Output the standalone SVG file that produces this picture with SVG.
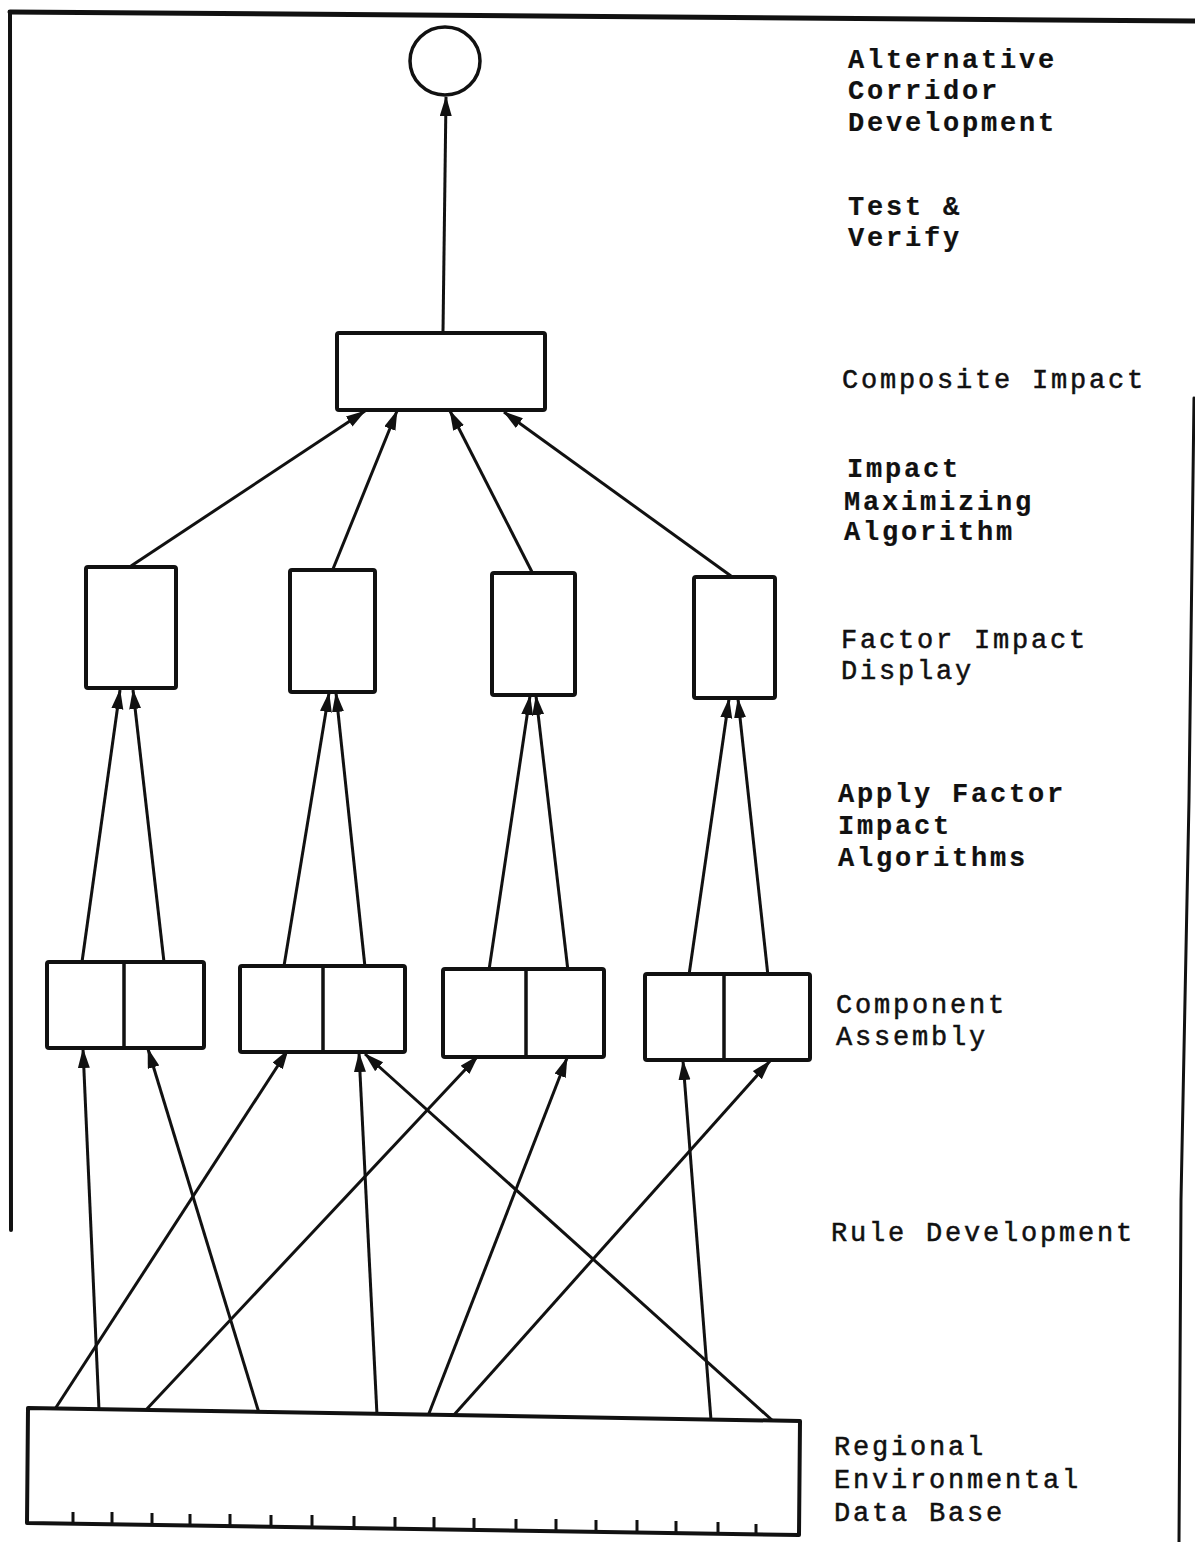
<svg xmlns="http://www.w3.org/2000/svg" width="1195" height="1542" viewBox="0 0 1195 1542">
  <defs>
    <marker id="head" markerUnits="userSpaceOnUse" markerWidth="22" markerHeight="13" refX="19" refY="6" orient="auto">
      <path d="M0,0 L20,6 L0,12 Z" fill="#111"/>
    </marker>
    <style>
      .frame { fill: none; stroke: #111; stroke-linecap: round; stroke-linejoin: round; }
      .box { fill: #fff; stroke: #111; stroke-width: 4; stroke-linejoin: round; }
      .div { stroke: #111; stroke-width: 3.5; }
      .tick { stroke: #111; stroke-width: 3; }
      .conn { stroke: #111; stroke-width: 3; fill: none; marker-end: url(#head); }
      .lbl { font-family: "Liberation Mono", "Courier New", monospace; font-size: 27px; letter-spacing: 2.8px; fill: #111; stroke: #111; stroke-width: 0.5px; }
      .b { font-weight: bold; stroke-width: 0.2px; }
    </style>
  </defs>

  <rect width="1195" height="1542" fill="#fff"/>

  <!-- page frame -->
  <g id="frame">
    <path class="frame" d="M10,12 L1195,21" stroke-width="5"/>
    <path class="frame" d="M10,12 L11,1230" stroke-width="4"/>
    <path class="frame" d="M1194,398 L1189,800 L1181,1200 L1179,1542" stroke-width="3"/>
  </g>

  <!-- connectors -->
  <g id="connectors">
    <!-- composite to goal -->
    <line class="conn" x1="443" y1="332" x2="446" y2="97"/>
    <!-- factor displays to composite -->
    <line class="conn" x1="131" y1="566" x2="365" y2="411"/>
    <line class="conn" x1="333" y1="569" x2="397" y2="411"/>
    <line class="conn" x1="532" y1="572" x2="450" y2="411"/>
    <line class="conn" x1="731" y1="576" x2="504" y2="412"/>
    <!-- component assemblies to factor displays -->
    <line class="conn" x1="82" y1="962" x2="120" y2="690"/>
    <line class="conn" x1="164" y1="962" x2="133" y2="690"/>
    <line class="conn" x1="284" y1="966" x2="329" y2="693"/>
    <line class="conn" x1="365" y1="967" x2="336" y2="693"/>
    <line class="conn" x1="489" y1="970" x2="530" y2="696"/>
    <line class="conn" x1="568" y1="971" x2="536" y2="696"/>
    <line class="conn" x1="689" y1="975" x2="729" y2="699"/>
    <line class="conn" x1="768" y1="976" x2="738" y2="699"/>
    <!-- data base to component assemblies -->
    <line class="conn" x1="55" y1="1409" x2="288" y2="1050"/>
    <line class="conn" x1="99" y1="1410" x2="83" y2="1049"/>
    <line class="conn" x1="145" y1="1411" x2="478" y2="1056"/>
    <line class="conn" x1="259" y1="1413" x2="148" y2="1049"/>
    <line class="conn" x1="377" y1="1415" x2="359" y2="1053"/>
    <line class="conn" x1="428" y1="1416" x2="567" y2="1058"/>
    <line class="conn" x1="453" y1="1416" x2="770" y2="1061"/>
    <line class="conn" x1="711" y1="1420" x2="683" y2="1061"/>
    <line class="conn" x1="773" y1="1421" x2="365" y2="1054"/>
  </g>

  <!-- goal -->
  <g id="corridor">
    <ellipse cx="445" cy="61" rx="35" ry="34" fill="#fff" stroke="#111" stroke-width="3.5"/>
  </g>

  <!-- composite impact -->
  <g id="composite">
    <rect class="box" x="337" y="333" width="208" height="77" rx="2"/>
  </g>

  <!-- factor impact displays -->
  <g id="factor1"><rect class="box" x="86" y="567" width="90" height="121" rx="2"/></g>
  <g id="factor2"><rect class="box" x="290" y="570" width="85" height="122" rx="2"/></g>
  <g id="factor3"><rect class="box" x="492" y="573" width="83" height="122" rx="2"/></g>
  <g id="factor4"><rect class="box" x="694" y="577" width="81" height="121" rx="2"/></g>

  <!-- component assemblies -->
  <g id="assembly1">
    <rect class="box" x="47" y="962" width="157" height="86" rx="2"/>
    <line class="div" x1="124" y1="962" x2="124" y2="1048"/>
  </g>
  <g id="assembly2">
    <rect class="box" x="240" y="966" width="165" height="86" rx="2"/>
    <line class="div" x1="323" y1="966" x2="323" y2="1052"/>
  </g>
  <g id="assembly3">
    <rect class="box" x="443" y="969" width="161" height="88" rx="2"/>
    <line class="div" x1="526" y1="969" x2="526" y2="1057"/>
  </g>
  <g id="assembly4">
    <rect class="box" x="645" y="974" width="165" height="86" rx="2"/>
    <line class="div" x1="724" y1="974" x2="724" y2="1060"/>
  </g>

  <!-- regional environmental data base -->
  <g id="database">
    <polygon class="box" points="28,1408 800,1421 799,1535 27,1523"/>
    <g>
      <line class="tick" x1="73" y1="1524" x2="73" y2="1512"/>
      <line class="tick" x1="112" y1="1524" x2="112" y2="1512"/>
      <line class="tick" x1="152" y1="1525" x2="152" y2="1513"/>
      <line class="tick" x1="190" y1="1526" x2="190" y2="1514"/>
      <line class="tick" x1="230" y1="1526" x2="230" y2="1514"/>
      <line class="tick" x1="271" y1="1527" x2="271" y2="1515"/>
      <line class="tick" x1="312" y1="1527" x2="312" y2="1515"/>
      <line class="tick" x1="354" y1="1528" x2="354" y2="1516"/>
      <line class="tick" x1="395" y1="1529" x2="395" y2="1517"/>
      <line class="tick" x1="434" y1="1529" x2="434" y2="1517"/>
      <line class="tick" x1="474" y1="1530" x2="474" y2="1518"/>
      <line class="tick" x1="516" y1="1531" x2="516" y2="1519"/>
      <line class="tick" x1="556" y1="1531" x2="556" y2="1519"/>
      <line class="tick" x1="596" y1="1532" x2="596" y2="1520"/>
      <line class="tick" x1="637" y1="1532" x2="637" y2="1520"/>
      <line class="tick" x1="676" y1="1533" x2="676" y2="1521"/>
      <line class="tick" x1="718" y1="1534" x2="718" y2="1522"/>
      <line class="tick" x1="756" y1="1534" x2="756" y2="1524"/>
    </g>
  </g>

  <!-- level labels -->
  <g id="labels">
    <text class="lbl b" x="848" y="68">Alternative</text>
    <text class="lbl b" x="848" y="99">Corridor</text>
    <text class="lbl b" x="848" y="131">Development</text>
    <text class="lbl b" x="848" y="215">Test &amp;</text>
    <text class="lbl b" x="848" y="246">Verify</text>
    <text class="lbl" x="842" y="388">Composite Impact</text>
    <text class="lbl b" x="847" y="477">Impact</text>
    <text class="lbl b" x="844" y="510">Maximizing</text>
    <text class="lbl b" x="844" y="540">Algorithm</text>
    <text class="lbl" x="841" y="648">Factor Impact</text>
    <text class="lbl" x="841" y="679">Display</text>
    <text class="lbl b" x="838" y="802">Apply Factor</text>
    <text class="lbl b" x="838" y="834">Impact</text>
    <text class="lbl b" x="838" y="866">Algorithms</text>
    <text class="lbl" x="836" y="1013">Component</text>
    <text class="lbl" x="836" y="1045">Assembly</text>
    <text class="lbl" x="831" y="1241">Rule Development</text>
    <text class="lbl" x="834" y="1455">Regional</text>
    <text class="lbl" x="834" y="1488">Environmental</text>
    <text class="lbl" x="834" y="1521">Data Base</text>
  </g>
</svg>
